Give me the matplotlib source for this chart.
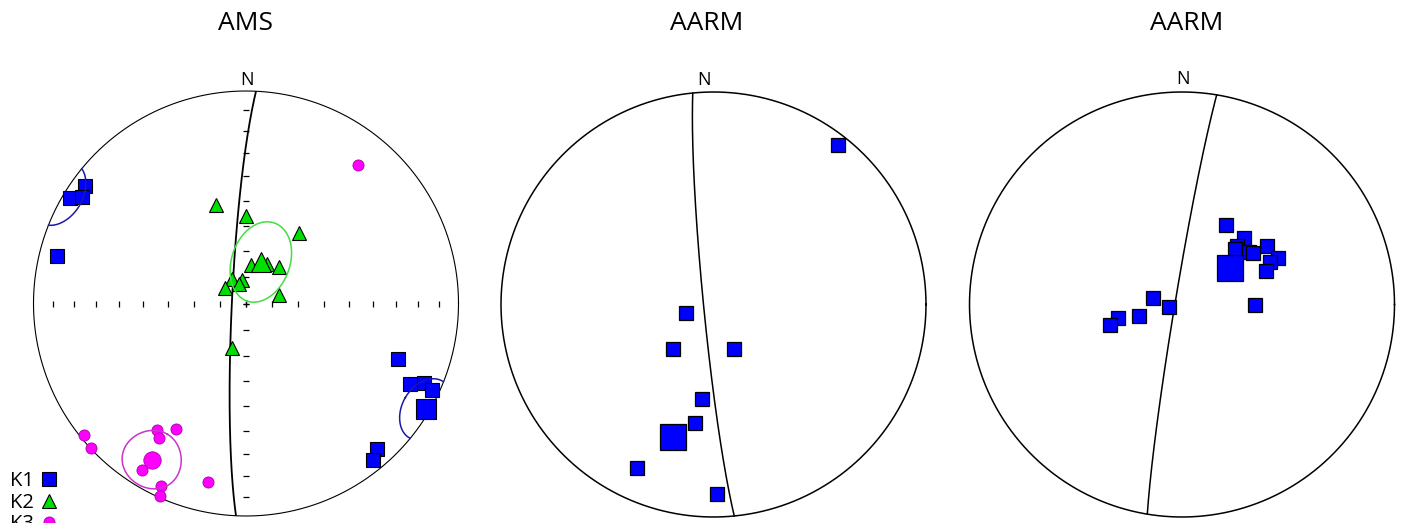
import numpy as np
import matplotlib.pyplot as plt

plt.rcParams['font.family'] = ['Open Sans', 'DejaVu Sans']

# ---- AMS site: principal susceptibility axes (declination, inclination, deg) ----
k1_dec = [306, 301, 303, 284, 110, 116, 114, 115, 138, 141]
k1_inc = [7, 4, 9, 9, 25, 15, 9, 4, 9, 6]
k2_dec = [343, 0, 37, 7, 28, 42, 330, 350, 305, 341, 75, 197]
k2_inc = [50, 56, 56, 75, 73, 71, 79, 81, 80, 82, 77, 72]
k3_dec = [39, 231, 227, 215, 213, 209, 212, 205, 204, 192]
k3_inc = [17, 2, 0.5, 28, 25.5, 33, 8.5, 6, 1, 15]

# site means (dec, inc) and confidence ellipse semi-angles (radial, tangential)
k1_mean = (120.5, 2)
k2_mean = (19.5, 73)
k3_mean = (211, 15)
k1_ell = (12, 9)
k2_ell = (16, 11)
k3_ell = (14, 9)

# mean foliation planes (dip direction, dip)
ams_plane = (272.7, 84.6)

# ---- AARM site 1 ----
aarm1_dec = [38, 252, 222, 155, 187, 189, 205, 179]
aarm1_inc = [5, 79, 67, 71, 53, 43, 16, 12]
aarm1_mean = (197, 35)
aarm1_plane = (264.4, 86.2)

# ---- AARM site 2 ----
aarm2_dec = [29, 43, 43, 44, 52, 55.5, 54, 64, 64, 68, 90, 283, 260, 255, 258, 254]
aarm2_inc = [55, 55, 59, 60.5, 57, 50, 56, 48.5, 52, 55, 62, 78.5, 85, 73, 65, 61]
aarm2_mean = (53, 67)
aarm2_plane = (279.4, 87.3)

titles = ['AMS', 'AARM', 'AARM']
legend_labels = ['K1', 'K2', 'K3']
tick_inc = [10, 20, 30, 40, 50, 60, 70, 80, 90]

BLUE = '#0000ff'
GREEN = '#00e000'
MAGENTA = '#ff00ff'

W, H = 1403, 523


def to_xy(dec, inc):
    # equal-area (Schmidt) lower hemisphere
    dec = np.radians(np.asarray(dec, float))
    inc = np.radians(np.asarray(inc, float))
    r = np.sqrt(2) * np.sin((np.pi / 2 - inc) / 2)
    return r * np.sin(dec), r * np.cos(dec)


def vec_to_xy(v):
    up = v[2] < 0
    w = np.where(up, -v, v)
    dec = np.degrees(np.arctan2(w[1], w[0]))
    inc = np.degrees(np.arcsin(np.clip(w[2], -1, 1)))
    x, y = to_xy(dec, inc)
    return x, y, up


def cone(mean, semi, n=600):
    D, I = np.radians(mean[0]), np.radians(mean[1])
    m = np.array([np.cos(I) * np.cos(D), np.cos(I) * np.sin(D), np.sin(I)])
    u1 = np.array([-np.sin(I) * np.cos(D), -np.sin(I) * np.sin(D), np.cos(I)])
    u2 = np.array([-np.sin(D), np.cos(D), 0.0])
    t = np.linspace(0, 2 * np.pi, n)
    v = (m[:, None] + np.tan(np.radians(semi[0])) * np.cos(t) * u1[:, None]
         + np.tan(np.radians(semi[1])) * np.sin(t) * u2[:, None])
    return v / np.linalg.norm(v, axis=0)


def great_circle(plane, n=300):
    dd, dp = np.radians(plane[0]), np.radians(plane[1])
    st = dd - np.pi / 2
    s = np.array([np.cos(st), np.sin(st), 0.0])
    d = np.array([np.cos(dp) * np.cos(dd), np.cos(dp) * np.sin(dd), np.sin(dp)])
    t = np.linspace(0, np.pi, n)
    return np.cos(t) * s[:, None] + np.sin(t) * d[:, None]


def add_net(cx, cy, R=212.5, lw=1.1):
    ax = fig.add_axes([(cx - R) / W, (H - cy - R) / H, 2 * R / W, 2 * R / H])
    ax.set_xlim(-1, 1)
    ax.set_ylim(-1, 1)
    ax.axis('off')
    t = np.linspace(0, 2 * np.pi, 400)
    ax.plot(np.cos(t), np.sin(t), color='black', lw=lw, clip_on=False)
    return ax


def draw_ellipse(ax, mean, semi, color):
    x, y, up = vec_to_xy(cone(mean, semi))
    ax.plot(np.where(up, np.nan, x), np.where(up, np.nan, y), color=color, lw=1.1, clip_on=False)
    ax.plot(np.where(up, x, np.nan), np.where(up, y, np.nan), color=color, lw=1.1, clip_on=False)


fig = plt.figure(figsize=(W / 100, H / 100), dpi=100)

# ---------------- AMS ----------------
ax1 = add_net(246, 303.5, lw=0.8)
r_t = np.sqrt(2) * np.sin(np.radians(90 - np.array(tick_inc)) / 2)
r_t = np.concatenate([-r_t, r_t])
ax1.plot(r_t, np.zeros_like(r_t), ls='', marker='|', ms=4, mew=0.9, color='black')
ax1.plot(np.zeros_like(r_t), r_t, ls='', marker='_', ms=4, mew=0.9, color='black')
gx, gy, _ = vec_to_xy(great_circle(ams_plane))
ax1.plot(gx, gy, color='black', lw=1.3)

x, y = to_xy(k1_dec, k1_inc)
h1, = ax1.plot(x, y, ls='', marker='s', ms=9.5, color=BLUE, mec='black', mew=0.8, clip_on=False, label=legend_labels[0])
x, y = to_xy(*k1_mean)
ax1.plot(x, y, ls='', marker='s', ms=14, color=BLUE, mec='black', mew=0.8, clip_on=False)
draw_ellipse(ax1, k1_mean, k1_ell, '#1a1aa8')

x, y = to_xy(k2_dec, k2_inc)
h2, = ax1.plot(x, y, ls='', marker='^', ms=10.5, color=GREEN, mec='black', mew=0.8, clip_on=False, label=legend_labels[1])
x, y = to_xy(*k2_mean)
ax1.plot(x, y, ls='', marker='^', ms=15, color=GREEN, mec='black', mew=0.8, clip_on=False)
draw_ellipse(ax1, k2_mean, k2_ell, '#44dd44')

x, y = to_xy(k3_dec, k3_inc)
h3, = ax1.plot(x, y, ls='', marker='o', ms=8, color=MAGENTA, mec='#aa00aa', mew=0.6, clip_on=False, label=legend_labels[2])
x, y = to_xy(*k3_mean)
ax1.plot(x, y, ls='', marker='o', ms=12.5, color=MAGENTA, mec='#aa00aa', mew=0.6, clip_on=False)
draw_ellipse(ax1, k3_mean, k3_ell, '#cc33cc')

ax1.text(0.003, 1.052, 'N', ha='center', va='center', fontsize=13)

fig.legend(handles=[h1, h2, h3], loc='upper left', bbox_to_anchor=(10 / W, 1 - 471 / H),
           markerfirst=False, frameon=False, fontsize=14.5, handlelength=0.9,
           handletextpad=0.3, labelspacing=0.08, borderpad=0, borderaxespad=0)

# ---------------- AARM 1 ----------------
ax2 = add_net(713.5, 304.5)
gx, gy, _ = vec_to_xy(great_circle(aarm1_plane))
ax2.plot(gx, gy, color='black', lw=1.1)
x, y = to_xy(aarm1_dec, aarm1_inc)
ax2.plot(x, y, ls='', marker='s', ms=10.5, color=BLUE, mec='black', mew=0.9, clip_on=False)
x, y = to_xy(*aarm1_mean)
ax2.plot(x, y, ls='', marker='s', ms=19, color=BLUE, mec='black', mew=0.9, clip_on=False)
ax2.text(-0.047, 1.057, 'N', ha='center', va='center', fontsize=13)

# ---------------- AARM 2 ----------------
ax3 = add_net(1182, 304.5)
gx, gy, _ = vec_to_xy(great_circle(aarm2_plane))
ax3.plot(gx, gy, color='black', lw=1.1)
x, y = to_xy(aarm2_dec, aarm2_inc)
ax3.plot(x, y, ls='', marker='s', ms=10.5, color=BLUE, mec='black', mew=0.9, clip_on=False)
x, y = to_xy(*aarm2_mean)
ax3.plot(x, y, ls='', marker='s', ms=19, color=BLUE, mec='black', mew=0.9, clip_on=False)
ax3.text(0.003, 1.063, 'N', ha='center', va='center', fontsize=13)

for cx, title in zip([245.5, 707, 1187], titles):
    fig.text(cx / W, 1 - 23 / H, title, ha='center', va='center', fontsize=19)

fig.savefig('out.png', dpi=100)
